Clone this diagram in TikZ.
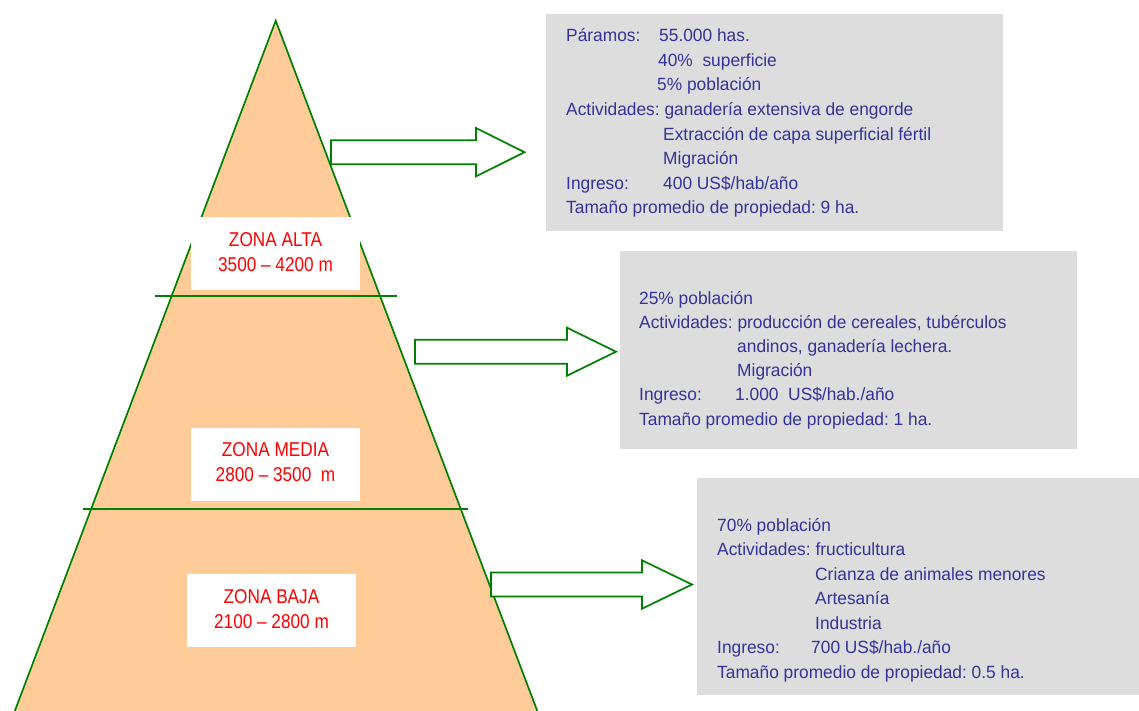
\documentclass[tikz,border=0pt]{standalone}
\usepackage{fontspec}
\setmainfont{Liberation Sans}
\newfontfamily\bluefont[FakeStretch=0.98,Ligatures=TeX]{Liberation Sans}
\newfontfamily\redfont[FakeStretch=0.86,Ligatures=TeX]{Liberation Sans}
\frenchspacing
\definecolor{pyrorange}{RGB}{255,204,153}
\definecolor{pyrgreen}{RGB}{0,128,0}
\definecolor{boxgray}{RGB}{221,221,221}
\definecolor{txtblue}{RGB}{51,51,153}
\definecolor{txtred}{RGB}{255,0,0}
\tikzset{
  greenline/.style={draw=pyrgreen, line width=1.7pt},
  blockarrow/.style={draw=pyrgreen, line width=1.7pt, fill=white, line join=miter},
  infobox/.style={fill=boxgray, draw=none, inner sep=0pt, anchor=north west},
  labelbox/.style={fill=white, draw=none, inner sep=0pt, anchor=north west},
  bt/.style={anchor=base west, inner sep=0pt, text=txtblue, font=\bluefont\fontsize{17.7}{20}\selectfont\frenchspacing},
  rt/.style={anchor=base, inner sep=0pt, text=txtred, font=\redfont\fontsize{20}{24}\selectfont}
}
\begin{document}
\begin{tikzpicture}[x=1pt,y=-1pt]
\useasboundingbox (0,0) rectangle (1139,711);
% pyramid
\coordinate (apex) at (275.7,20.7);
\coordinate (bl) at (14.8,711);
\coordinate (br) at (537.3,711);
\fill[pyrorange] (apex) -- (br) -- (bl) -- cycle;
\draw[greenline, line join=miter] (bl) -- (apex) -- (br);
% zone separators
\coordinate (l1a) at (155,295.7); \coordinate (l1b) at (397,295.7);
\coordinate (l2a) at (83,509);    \coordinate (l2b) at (468,509);
\draw[greenline] (l1a) -- (l1b);
\draw[greenline] (l2a) -- (l2b);
% white label boxes
\node[labelbox, minimum width=169pt, minimum height=73.3pt] (altabox) at (191,216.7) {};
\node[labelbox, minimum width=169pt, minimum height=72.7pt] (mediabox) at (191,428) {};
\node[labelbox, minimum width=169pt, minimum height=72.7pt] (bajabox) at (187,574) {};
\node[rt] (alta1) at (275.5,246.7) {ZONA ALTA};
\node[rt] (alta2) at (275.5,271.7) {3500 – 4200 m};
\node[rt] (media1) at (275.5,456.7) {ZONA MEDIA};
\node[rt] (media2) at (275.5,481.7) {2800 – 3500\ \ m};
\node[rt] (baja1) at (271.5,603.3) {ZONA BAJA};
\node[rt] (baja2) at (271.5,628.3) {2100 – 2800 m};
% info boxes
\node[infobox, minimum width=457pt, minimum height=216.7pt] (box1) at (546,14) {};
\node[infobox, minimum width=456.7pt, minimum height=197.7pt] (box2) at (620,251) {};
\node[infobox, minimum width=443pt, minimum height=217.3pt] (box3) at (696.4,477.7) {};
% arrows
\draw[blockarrow] (331,140.2) -- (476,140.2) -- (476,128) -- (524.5,152.2) -- (476,176.4) -- (476,164.2) -- (331,164.2) -- cycle;
\draw[blockarrow] (415,339.7) -- (567,339.7) -- (567,327.7) -- (616,351.7) -- (567,375.7) -- (567,363.7) -- (415,363.7) -- cycle;
\draw[blockarrow] (491,572.5) -- (642,572.5) -- (642,560.3) -- (692,584.5) -- (642,608.7) -- (642,596.5) -- (491,596.5) -- cycle;
% box 1 text
\node[bt] (a1) at (566,41.7) {Páramos:};
\node[bt] (a1b) at (659,41.7) {55.000 has.};
\node[bt] (a2) at (658,66.3) {40\%\ \ superficie};
\node[bt] (a3) at (657,90.9) {5\% población};
\node[bt] (a4) at (566,115.5) {Actividades: ganadería extensiva de engorde};
\node[bt] (a5) at (663,140.1) {Extracción de capa superficial fértil};
\node[bt] (a6) at (663,164.7) {Migración};
\node[bt] (a7) at (566,189.3) {Ingreso:};
\node[bt] (a7b) at (663,189.3) {400 US\$/hab/año};
\node[bt] (a8) at (566,213.9) {Tamaño promedio de propiedad: 9 ha.};
% box 2 text
\node[bt] (b1) at (639,304) {25\% población};
\node[bt] (b2) at (639,328.2) {Actividades: producción de cereales, tubérculos};
\node[bt] (b3) at (737,352.4) {andinos, ganadería lechera.};
\node[bt] (b4) at (737,376.6) {Migración};
\node[bt] (b5) at (639,400.8) {Ingreso:};
\node[bt] (b5b) at (735,400.8) {1.000\ \ US\$/hab./año};
\node[bt] (b6) at (639,425) {Tamaño promedio de propiedad: 1 ha.};
% box 3 text
\node[bt] (c1) at (717,531) {70\% población};
\node[bt] (c2) at (717,555.5) {Actividades: fructicultura};
\node[bt] (c3) at (815,580) {Crianza de animales menores};
\node[bt] (c4) at (815,604.5) {Artesanía};
\node[bt] (c5) at (815,629) {Industria};
\node[bt] (c6) at (717,653.5) {Ingreso:};
\node[bt] (c6b) at (811,653.5) {700 US\$/hab./año};
\node[bt] (c7) at (717,678) {Tamaño promedio de propiedad: 0.5 ha.};
\end{tikzpicture}
\end{document}
